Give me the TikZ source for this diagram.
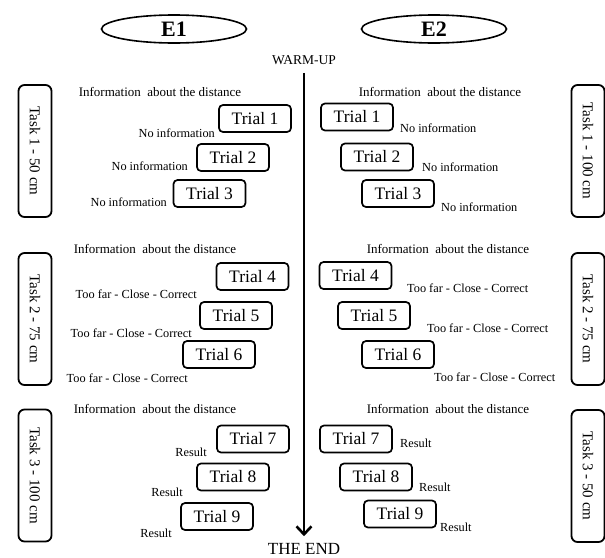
\documentclass[tikz,border=0pt]{standalone}
\usepackage{fontspec}
\setmainfont{Liberation Serif}
\usetikzlibrary{arrows.meta}
\usetikzlibrary{shapes.geometric}

\begin{document}
\begin{tikzpicture}[%
  x=1pt, y=-1pt,
  >={Straight Barb[length=8pt,width=15pt]},
  trial/.style={draw, rounded corners=4pt, line width=1.7pt, minimum width=72pt,
    minimum height=27pt, inner sep=0pt, font=\fontsize{17.5}{17.5}\selectfont},
  task/.style={draw, rounded corners=6pt, line width=1.8pt, rotate=-90,
    minimum width=132pt, minimum height=33pt, inner sep=0pt,
    font=\fontsize{15}{15}\selectfont},
  expt/.style={draw, ellipse, line width=1.6pt, minimum width=145pt,
    minimum height=28pt, inner sep=0pt, font=\fontsize{22}{22}\bfseries\selectfont},
  note/.style={inner sep=0pt, font=\fontsize{12.3}{13}\selectfont},
  info/.style={inner sep=0pt, font=\fontsize{13}{14}\selectfont},
]

  \useasboundingbox (0,0) rectangle (605,557);

  % experiments
  \node[expt] (e1) at (174,29) {E1};
  \node[expt] (e2) at (434,29) {E2};

  % time line
  \node[inner sep=0pt, font=\fontsize{13.5}{14}\selectfont] (warmup) at (304,60) {WARM-UP};
  \node[inner sep=0pt, font=\fontsize{17}{17}\selectfont] (theend) at (304,549) {THE END};
  \draw[->, line width=2.6pt, shorten <=8pt, shorten >=7pt] (warmup) -- (theend);

  % tasks
  \node[task] (a1) at (35,151) {Task 1 - 50 cm};
  \node[task] (a2) at (35,319) {Task 2 - 75 cm};
  \node[task] (a3) at (35,475.5) {Task 3 - 100 cm};
  \node[task] (b1) at (588,151) {Task 1 - 100 cm};
  \node[task] (b2) at (588,319) {Task 2 - 75 cm};
  \node[task] (b3) at (588,476) {Task 3 - 50 cm};

  \node[info] (ia1) at (160,92) {Information~ about the distance};
  \node[info] (ia2) at (155,249) {Information~ about the distance};
  \node[info] (ia3) at (155,409) {Information~ about the distance};
  \node[info] (ib1) at (440,92) {Information~ about the distance};
  \node[info] (ib2) at (448,249) {Information~ about the distance};
  \node[info] (ib3) at (448,409) {Information~ about the distance};

  % E1 trials
  \node[trial] (l1) at (255,118.5) {Trial 1};
  \node[trial] (l2) at (233,157.5) {Trial 2};
  \node[trial] (l3) at (209.5,193.5) {Trial 3};
  \node[trial] (l4) at (252.5,276.5) {Trial 4};
  \node[trial] (l5) at (236,315.5) {Trial 5};
  \node[trial] (l6) at (219,354.5) {Trial 6};
  \node[trial] (l7) at (253,439) {Trial 7};
  \node[trial] (l8) at (233,477) {Trial 8};
  \node[trial] (l9) at (217,516.5) {Trial 9};

  % E2 trials
  \node[trial] (r1) at (357,117) {Trial 1};
  \node[trial] (r2) at (377,157) {Trial 2};
  \node[trial] (r3) at (398,193.5) {Trial 3};
  \node[trial] (r4) at (355.5,275.5) {Trial 4};
  \node[trial] (r5) at (374,315.5) {Trial 5};
  \node[trial] (r6) at (398,354.5) {Trial 6};
  \node[trial] (r7) at (356,439) {Trial 7};
  \node[trial] (r8) at (376,477) {Trial 8};
  \node[trial] (r9) at (400,514) {Trial 9};

  % feedback, E1
  \node[note, anchor=east] (fl1) at (215,133) {No information};
  \node[note, anchor=east] (fl2) at (188,166) {No information};
  \node[note, anchor=east] (fl3) at (167,202) {No information};
  \node[note, anchor=east] (fl4) at (197,294) {Too far - Close - Correct};
  \node[note, anchor=east] (fl5) at (192,333) {Too far - Close - Correct};
  \node[note, anchor=east] (fl6) at (188,378) {Too far - Close - Correct};
  \node[note, anchor=east] (fl7) at (207,452) {Result};
  \node[note, anchor=east] (fl8) at (183,492) {Result};
  \node[note, anchor=east] (fl9) at (172,533) {Result};

  % feedback, E2
  \node[note, anchor=west] (fr1) at (400,128) {No information};
  \node[note, anchor=west] (fr2) at (422,167) {No information};
  \node[note, anchor=west] (fr3) at (441,207) {No information};
  \node[note, anchor=west] (fr4) at (407,288) {Too far - Close - Correct};
  \node[note, anchor=west] (fr5) at (427,328) {Too far - Close - Correct};
  \node[note, anchor=west] (fr6) at (434,377) {Too far - Close - Correct};
  \node[note, anchor=west] (fr7) at (400,443) {Result};
  \node[note, anchor=west] (fr8) at (419,487) {Result};
  \node[note, anchor=west] (fr9) at (440,527) {Result};

\end{tikzpicture}
\end{document}
